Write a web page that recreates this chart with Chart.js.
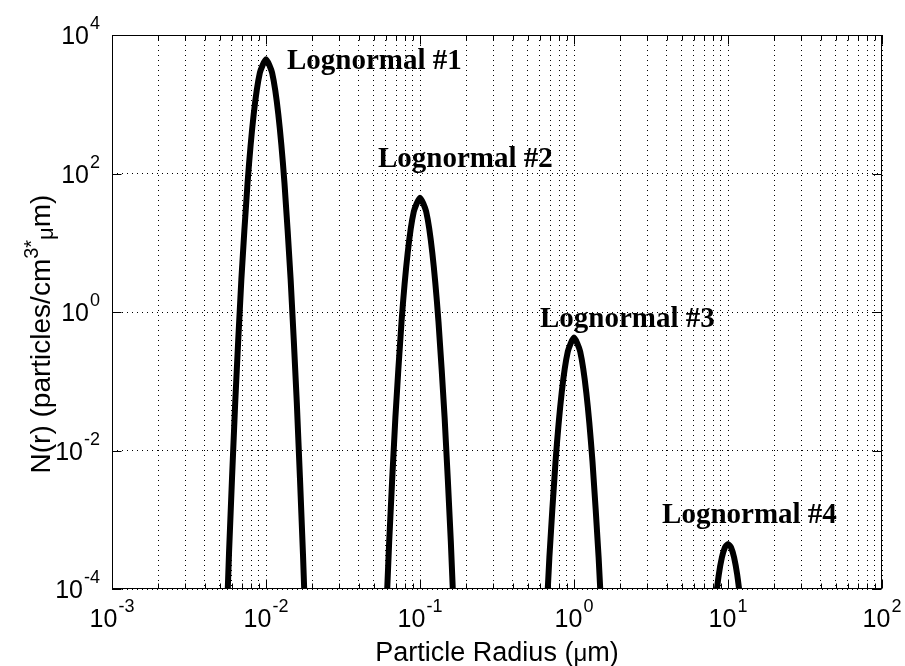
<!DOCTYPE html>
<html><head><meta charset="utf-8">
<script src="https://cdn.jsdelivr.net/npm/chart.js@4.4.1/dist/chart.umd.min.js"></script>
<style>html,body{margin:0;padding:0;background:#fff;}canvas{display:block;}</style>
</head><body>
<canvas id="c" width="905" height="666"></canvas>
<script>
// ---- data ----
const radius1  = [0.00525, 0.00575, 0.00631, 0.00692, 0.00759, 0.00832, 0.00912, 0.0100, 0.01096, 0.01202, 0.01318, 0.01445, 0.01585, 0.01738, 0.01905];
const density1 = [8.5e-7, 3.22e-4, 0.049, 2.99, 73.1, 718, 2831, 4467, 2831, 718, 73.1, 2.99, 0.049, 3.22e-4, 8.5e-7];

const radius2  = [0.0575, 0.0631, 0.0692, 0.0759, 0.0832, 0.0912, 0.100, 0.1096, 0.1202, 0.1318, 0.1445, 0.1585, 0.1738];
const density2 = [3.2e-6, 4.9e-4, 0.0299, 0.731, 7.18, 28.3, 44.7, 28.3, 7.18, 0.731, 0.0299, 4.9e-4, 3.2e-6];

const radius3  = [0.631, 0.692, 0.759, 0.832, 0.912, 1.00, 1.096, 1.202, 1.318, 1.445, 1.585];
const density3 = [4.7e-6, 2.86e-4, 0.00698, 0.0686, 0.270, 0.427, 0.270, 0.0686, 0.00698, 2.86e-4, 4.7e-6];

const radius4  = [8.32, 8.71, 9.12, 9.55, 10.0, 10.47, 10.96, 11.48, 12.02];
const density4 = [7.2e-5, 1.60e-4, 2.83e-4, 3.98e-4, 4.47e-4, 3.98e-4, 2.83e-4, 1.60e-4, 7.2e-5];

const xMajorTicks = [1e-3, 1e-2, 1e-1, 1, 10, 100];
const xTickExponents = ['-3', '-2', '-1', '0', '1', '2'];
const yMajorTicks = [1e-4, 1e-2, 1, 1e2, 1e4];
const yTickExponents = ['-4', '-2', '0', '2', '4'];

const modeNames = ['Lognormal #1', 'Lognormal #2', 'Lognormal #3', 'Lognormal #4'];
const modeLabelRadius  = [0.01368, 0.0533, 0.601, 3.73];
const modeLabelDensity = [3228, 124, 0.607, 8.97e-4];

// ---- derived ----
const xAllTicks = [];
xMajorTicks.forEach((v, i) => {
  xAllTicks.push(v);
  if (i < xMajorTicks.length - 1) for (let m = 2; m <= 9; m++) xAllTicks.push(v * m);
});
const toPts = (xs, ys) => xs.map((x, i) => ({x: x, y: ys[i]}));

const SANS = '"Liberation Sans", Arial, sans-serif';
const SERIF = '"Liberation Serif", "Times New Roman", serif';

function richWidth(ctx, segs) {
  let w = 0;
  segs.forEach(s => { ctx.font = s.font; w += ctx.measureText(s.text).width + (s.gap || 0); });
  return w;
}
function drawRich(ctx, segs, x, y) {
  let cx = x;
  segs.forEach(s => {
    ctx.font = s.font;
    ctx.fillText(s.text, cx, y + (s.dy || 0));
    cx += ctx.measureText(s.text).width + (s.gap || 0);
  });
}

const decorPlugin = {
  id: 'decor',
  afterDraw(chart) {
    const ctx = chart.ctx;
    const a = chart.chartArea;
    const xs = chart.scales.x, ys = chart.scales.y;
    const L = Math.round(a.left) + 0.5, R = Math.round(a.right) - 0.5;
    const T = Math.round(a.top) + 0.5, B = Math.round(a.bottom) - 0.5;
    ctx.save();
    ctx.strokeStyle = '#000';
    ctx.lineWidth = 1;
    ctx.setLineDash([]);
    ctx.strokeRect(L, T, R - L, B - T);
    // ticks
    ctx.beginPath();
    xAllTicks.forEach(v => {
      const major = xMajorTicks.includes(v);
      const len = major ? 9 : 5;
      const px = Math.round(xs.getPixelForValue(v)) + 0.5;
      ctx.moveTo(px, B); ctx.lineTo(px, B - len);
      ctx.moveTo(px, T); ctx.lineTo(px, T + len);
    });
    yMajorTicks.forEach(v => {
      const py = Math.round(ys.getPixelForValue(v)) + 0.5;
      ctx.moveTo(L, py); ctx.lineTo(L + 9, py);
      ctx.moveTo(R, py); ctx.lineTo(R - 9, py);
    });
    ctx.stroke();

    ctx.fillStyle = '#000';
    ctx.textBaseline = 'alphabetic';
    ctx.textAlign = 'left';
    const baseFont = '25px ' + SANS, expFont = '18px ' + SANS;
    // x tick labels
    xMajorTicks.forEach((v, i) => {
      const segs = [{text: '10', font: baseFont, gap: 1}, {text: xTickExponents[i], font: expFont, dy: -15}];
      const w = richWidth(ctx, segs);
      const px = xs.getPixelForValue(v);
      drawRich(ctx, segs, px - w / 2, B + 38);
    });
    // y tick labels
    yMajorTicks.forEach((v, i) => {
      const segs = [{text: '10', font: baseFont, gap: 1}, {text: yTickExponents[i], font: expFont, dy: -15}];
      const w = richWidth(ctx, segs);
      const py = ys.getPixelForValue(v);
      drawRich(ctx, segs, 100 - w, py + 9);
    });
    // x title
    const titleFont = '27px ' + SANS;
    const xt = [{text: 'Particle Radius (', font: titleFont}, {text: 'μ', font: '24px ' + SANS}, {text: 'm)', font: titleFont}];
    const xtw = richWidth(ctx, xt);
    drawRich(ctx, xt, (a.left + a.right) / 2 - xtw / 2, 661);
    // y title
    const yTitleFont = '28px ' + SANS;
    const yt = [
      {text: 'N(r) (particles/cm', font: yTitleFont},
      {text: '3*', font: '20px ' + SANS, dy: -12},
      {text: 'μ', font: '22px ' + SANS, dy: 3},
      {text: 'm)', font: yTitleFont}
    ];
    const ytw = richWidth(ctx, yt);
    ctx.save();
    ctx.translate(50, (a.top + a.bottom) / 2 + 22);
    ctx.rotate(-Math.PI / 2);
    drawRich(ctx, yt, -ytw / 2, 0);
    ctx.restore();
    // mode labels
    ctx.font = 'bold 29px ' + SERIF;
    modeNames.forEach((t, i) => {
      ctx.fillText(t, xs.getPixelForValue(modeLabelRadius[i]), ys.getPixelForValue(modeLabelDensity[i]));
    });
    ctx.restore();
  }
};

const lineStyle = {showLine: true, borderColor: '#000', borderWidth: 6, pointRadius: 0, tension: 0.2, fill: false};

new Chart(document.getElementById('c'), {
  type: 'scatter',
  data: {
    datasets: [
      Object.assign({label: modeNames[0], data: toPts(radius1, density1)}, lineStyle),
      Object.assign({label: modeNames[1], data: toPts(radius2, density2)}, lineStyle),
      Object.assign({label: modeNames[2], data: toPts(radius3, density3)}, lineStyle),
      Object.assign({label: modeNames[3], data: toPts(radius4, density4)}, lineStyle)
    ]
  },
  options: {
    responsive: false,
    animation: false,
    devicePixelRatio: 1,
    layout: {padding: {left: 112, right: 23, top: 35, bottom: 77}},
    elements: {line: {capBezierPoints: false}},
    plugins: {legend: {display: false}, tooltip: {enabled: false}, title: {display: false}},
    scales: {
      x: {
        type: 'logarithmic', min: 1e-3, max: 100,
        afterBuildTicks: s => { s.ticks = xAllTicks.map(v => ({value: v})); },
        ticks: {display: false, autoSkip: false},
        grid: {color: '#000', lineWidth: 1, drawTicks: false},
        border: {display: false, dash: [1, 4]}
      },
      y: {
        type: 'logarithmic', min: 1e-4, max: 1e4,
        afterBuildTicks: s => { s.ticks = yMajorTicks.map(v => ({value: v})); },
        ticks: {display: false, autoSkip: false},
        grid: {color: '#000', lineWidth: 1, drawTicks: false},
        border: {display: false, dash: [1, 4]}
      }
    }
  },
  plugins: [decorPlugin]
});
</script>
</body></html>
